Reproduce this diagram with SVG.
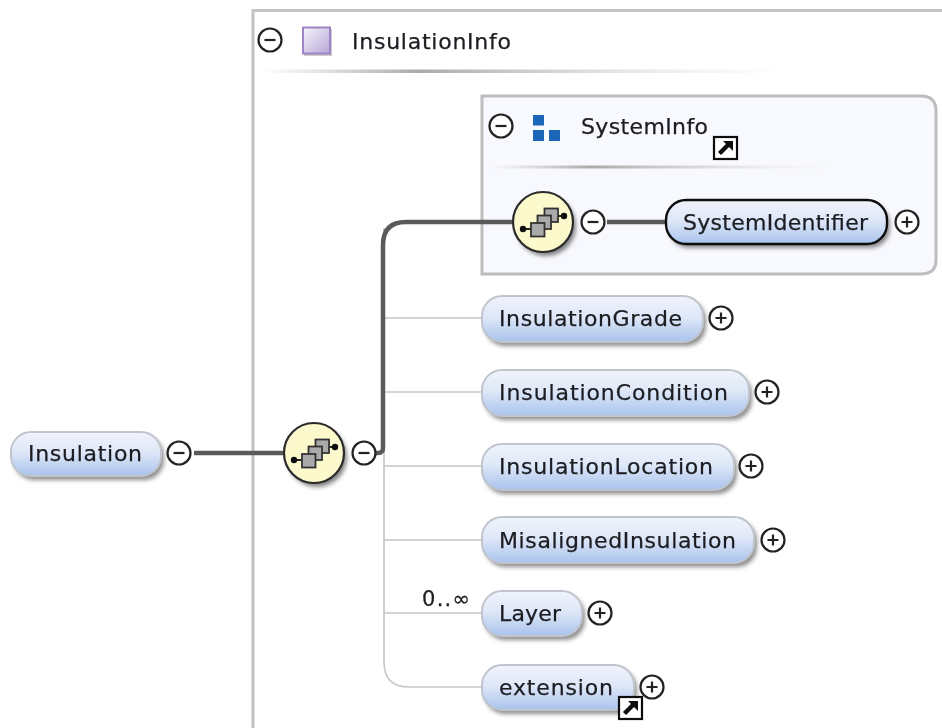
<svg xmlns="http://www.w3.org/2000/svg" xmlns:xlink="http://www.w3.org/1999/xlink" width="942" height="728" viewBox="0 0 942 728">
<style>
text{font-family:"DejaVu Sans","Liberation Sans",sans-serif;font-size:22px;fill:#1c1e22;stroke:#1c1e22;stroke-width:.25}
.pill{fill:url(#pg);stroke:#c0c4cc;stroke-width:2}
.pill.sel{stroke:#111;stroke-width:2.4}
.shadow{fill:#444;opacity:.6;filter:url(#sh)}
.thin{fill:none;stroke:#c6c6c6;stroke-width:1.6}
.thick{fill:none;stroke:#5a5a5a;stroke-width:4.5}
.tog{fill:#fff;stroke:#222;stroke-width:2.2}
.sign{stroke:#222;stroke-width:2.2;fill:none}
</style>
<defs>
<linearGradient id="pg" x1="0" y1="0" x2="0" y2="1"><stop offset="0" stop-color="#f0f3fb"/><stop offset=".45" stop-color="#dfe8f8"/><stop offset="1" stop-color="#a9c3ec"/></linearGradient>
<linearGradient id="pu" x1="0" y1="0" x2="1" y2="1"><stop offset="0" stop-color="#f6f4fb"/><stop offset="1" stop-color="#b7a6d8"/></linearGradient>
<linearGradient id="d1" x1="0" x2="1" y1="0" y2="0"><stop offset="0" stop-color="#bbb" stop-opacity="0"/><stop offset=".3" stop-color="#aaa"/><stop offset="1" stop-color="#ddd" stop-opacity="0"/></linearGradient>
<filter id="sh" x="-20%" y="-30%" width="140%" height="160%"><feGaussianBlur stdDeviation="2"/></filter>
<filter id="soft" x="0" y="0" width="942" height="728" filterUnits="userSpaceOnUse"><feGaussianBlur stdDeviation="0.5"/></filter>
<symbol id="minus" overflow="visible"><circle r="11.5" class="tog"/><path d="M-5.500 0H5.500" class="sign"/></symbol>
<symbol id="plus" overflow="visible"><circle r="11.5" class="tog"/><path d="M-5.500 0H5.500M0-5.500V5.500" class="sign"/></symbol>
<symbol id="comp" overflow="visible">
<circle cx="3" cy="4" r="30" fill="#333" opacity=".6" filter="url(#sh)"/>
<circle r="30" fill="#fcf9cd" stroke="#2a2a2a" stroke-width="2.2"/>
<path d="M-20 7H-12M14-6H21" stroke="#222" stroke-width="2.2"/>
<circle cx="-20" cy="7" r="3.200" fill="#111"/><circle cx="21" cy="-6" r="3.200" fill="#111"/>
<rect x="1.500" y="-13.500" width="13.500" height="13.500" fill="#aaa" stroke="#333" stroke-width="1.800"/>
<rect x="-5.500" y="-6.500" width="13.500" height="13.500" fill="#aaa" stroke="#333" stroke-width="1.800"/>
<rect x="-12" y="1" width="13.500" height="13.500" fill="#aaa" stroke="#333" stroke-width="1.800"/>
</symbol>
<symbol id="link" overflow="visible">
<rect width="23" height="22" fill="#fff" stroke="#111" stroke-width="2.200"/>
<path d="M5.500 16.500L14 8" stroke="#111" stroke-width="4.500" fill="none"/>
<path d="M9 4H19V14Z" fill="#111"/>
</symbol>
</defs>
<rect width="942" height="728" fill="#fff"/>
<g filter="url(#soft)">
<g id="InsulationInfo">
<path d="M253 728V10.500H942" fill="none" stroke="#c2c2c2" stroke-width="3"/>
<rect x="260" y="69.500" width="530" height="3.500" fill="url(#d1)"/>
<use xlink:href="#minus" href="#minus" x="270" y="40"/>
<rect x="304" y="29" width="28" height="27" fill="#999" opacity=".5"/>
<rect x="303" y="27.500" width="27" height="26" fill="url(#pu)" stroke="#9c84c6" stroke-width="2"/>
<text x="352" y="49" textLength="159">InsulationInfo</text>
</g>
<g id="SystemInfo">
<path d="M482 96H921Q936 96 936 111V260Q936 274 921 274H482Z" fill="#f8f9fe" stroke="#bdbdbd" stroke-width="3"/>
<rect x="490" y="165.500" width="340" height="3" fill="url(#d1)"/>
<use xlink:href="#minus" href="#minus" x="501" y="126"/>
<path d="M533 115h11v10.500h-11zM533 130h11v11h-11zM549 130h11v11h-11z" fill="#1c66b8"/>
<text x="581" y="134" textLength="127">SystemInfo</text>
<use xlink:href="#link" href="#link" x="714" y="137"/>
</g>
<g id="connectors">
<path class="thin" d="M384 228V662Q384 687 409 687H482"/>
<path class="thin" d="M384 318H482M384 392H482M384 466H482M384 540H482M384 613H482"/>
<path class="thick" d="M194 453H284"/>
<path class="thick" d="M375 453H378Q383 453 383 448V245Q383 222 406 222H513"/>
<path class="thick" d="M607 222H666"/>
</g>
<g id="Insulation">
<rect class="shadow" x="14" y="436" width="150" height="44" rx="20"/>
<rect class="pill" x="11" y="432" width="150" height="44" rx="20"/>
<text x="28" y="461" textLength="114">Insulation</text>
<use xlink:href="#minus" href="#minus" x="179" y="453"/>
</g>
<g id="sequence1"><use xlink:href="#comp" href="#comp" x="314" y="453"/><use xlink:href="#minus" href="#minus" x="364" y="453"/></g>
<g id="sequence2"><use xlink:href="#comp" href="#comp" x="543" y="222"/><use xlink:href="#minus" href="#minus" x="593" y="222"/></g>
<g id="SystemIdentifier">
<rect class="shadow" x="669" y="204" width="221" height="44" rx="20"/>
<rect class="pill sel" x="666" y="200" width="221" height="44" rx="20"/>
<text x="683" y="230" textLength="185">SystemIdentifier</text>
<use xlink:href="#plus" href="#plus" x="907" y="222"/>
</g>
<g id="InsulationGrade">
<rect class="shadow" x="485" y="300" width="221" height="46" rx="20"/>
<rect class="pill" x="482" y="296" width="221" height="46" rx="20"/>
<text x="499" y="326" textLength="183">InsulationGrade</text>
<use xlink:href="#plus" href="#plus" x="721" y="318"/>
</g>
<g id="InsulationCondition">
<rect class="shadow" x="485" y="374" width="267" height="46" rx="20"/>
<rect class="pill" x="482" y="370" width="267" height="46" rx="20"/>
<text x="499" y="400" textLength="229">InsulationCondition</text>
<use xlink:href="#plus" href="#plus" x="767" y="392"/>
</g>
<g id="InsulationLocation">
<rect class="shadow" x="485" y="448" width="252" height="46" rx="20"/>
<rect class="pill" x="482" y="444" width="252" height="46" rx="20"/>
<text x="499" y="474" textLength="214">InsulationLocation</text>
<use xlink:href="#plus" href="#plus" x="751" y="466"/>
</g>
<g id="MisalignedInsulation">
<rect class="shadow" x="485" y="521" width="272" height="46" rx="20"/>
<rect class="pill" x="482" y="517" width="272" height="46" rx="20"/>
<text x="499" y="548" textLength="237">MisalignedInsulation</text>
<use xlink:href="#plus" href="#plus" x="773" y="540"/>
</g>
<g id="Layer">
<rect class="shadow" x="485" y="595" width="100" height="45" rx="20"/>
<rect class="pill" x="482" y="591" width="100" height="45" rx="20"/>
<text x="499" y="621" textLength="62">Layer</text>
<use xlink:href="#plus" href="#plus" x="600" y="613"/>
<text x="422" y="606" textLength="48" style="font-size:21px">0..∞</text>
</g>
<g id="extension">
<rect class="shadow" x="485" y="669" width="152" height="45" rx="20"/>
<rect class="pill" x="482" y="665" width="152" height="45" rx="20"/>
<text x="499" y="695" textLength="114">extension</text>
<use xlink:href="#plus" href="#plus" x="652" y="687"/>
<use xlink:href="#link" href="#link" x="619" y="697"/>
</g>
</g>
</svg>
